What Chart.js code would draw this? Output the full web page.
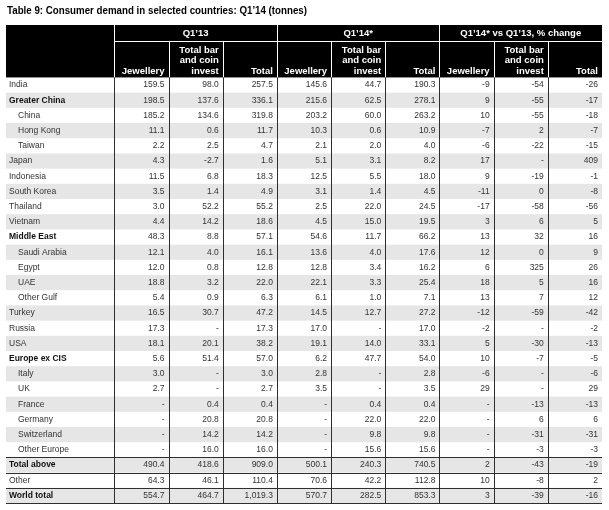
<!DOCTYPE html>
<html lang="en">
<head>
<meta charset="UTF-8">
<title>Table 9: Consumer demand in selected countries</title>
<script src="https://cdn.jsdelivr.net/npm/chart.js"></script>
<style>
  body { margin: 0; background: #fff; }
  .wrap { position: relative; width: 609px; height: 510px; }
</style>
</head>
<body>
<div class="wrap"><canvas id="tbl"></canvas></div>
<script>
const title = 'Table 9: Consumer demand in selected countries: Q1’14 (tonnes)';
const groups = ['Q1’13', 'Q1’14*', 'Q1’14* vs Q1’13, % change'];
const subHeads = [['Jewellery'], ['Total bar', 'and coin', 'invest'], ['Total']];

const countries = ['India', 'Greater China', 'China', 'Hong Kong', 'Taiwan', 'Japan', 'Indonesia',
  'South Korea', 'Thailand', 'Vietnam', 'Middle East', 'Saudi Arabia', 'Egypt', 'UAE', 'Other Gulf',
  'Turkey', 'Russia', 'USA', 'Europe ex CIS', 'Italy', 'UK', 'France', 'Germany', 'Switzerland',
  'Other Europe', 'Total above', 'Other', 'World total'];
const boldRows = ['Greater China', 'Middle East', 'Europe ex CIS', 'Total above', 'World total'];
const indented = ['China', 'Hong Kong', 'Taiwan', 'Saudi Arabia', 'Egypt', 'UAE', 'Other Gulf',
  'Italy', 'UK', 'France', 'Germany', 'Switzerland', 'Other Europe'];

// tonnes, Q1'13
const q13Jewellery = [159.5, 198.5, 185.2, 11.1, 2.2, 4.3, 11.5, 3.5, 3.0, 4.4, 48.3, 12.1, 12.0, 18.8, 5.4,
  16.5, 17.3, 18.1, 5.6, 3.0, 2.7, null, null, null, null, 490.4, 64.3, 554.7];
const q13BarCoin = [98.0, 137.6, 134.6, 0.6, 2.5, -2.7, 6.8, 1.4, 52.2, 14.2, 8.8, 4.0, 0.8, 3.2, 0.9,
  30.7, null, 20.1, 51.4, null, null, 0.4, 20.8, 14.2, 16.0, 418.6, 46.1, 464.7];
const q13Total = [257.5, 336.1, 319.8, 11.7, 4.7, 1.6, 18.3, 4.9, 55.2, 18.6, 57.1, 16.1, 12.8, 22.0, 6.3,
  47.2, 17.3, 38.2, 57.0, 3.0, 2.7, 0.4, 20.8, 14.2, 16.0, 909.0, 110.4, 1019.3];
// tonnes, Q1'14
const q14Jewellery = [145.6, 215.6, 203.2, 10.3, 2.1, 5.1, 12.5, 3.1, 2.5, 4.5, 54.6, 13.6, 12.8, 22.1, 6.1,
  14.5, 17.0, 19.1, 6.2, 2.8, 3.5, null, null, null, null, 500.1, 70.6, 570.7];
const q14BarCoin = [44.7, 62.5, 60.0, 0.6, 2.0, 3.1, 5.5, 1.4, 22.0, 15.0, 11.7, 4.0, 3.4, 3.3, 1.0,
  12.7, null, 14.0, 47.7, null, null, 0.4, 22.0, 9.8, 15.6, 240.3, 42.2, 282.5];
const q14Total = [190.3, 278.1, 263.2, 10.9, 4.0, 8.2, 18.0, 4.5, 24.5, 19.5, 66.2, 17.6, 16.2, 25.4, 7.1,
  27.2, 17.0, 33.1, 54.0, 2.8, 3.5, 0.4, 22.0, 9.8, 15.6, 740.5, 112.8, 853.3];
// % change
const chgJewellery = [-9, 9, 10, -7, -6, 17, 9, -11, -17, 3, 13, 12, 6, 18, 13, -12, -2, 5, 10, -6, 29,
  null, null, null, null, 2, 10, 3];
const chgBarCoin = [-54, -55, -55, 2, -22, null, -19, 0, -58, 6, 32, 0, 325, 5, 7, -59, null, -30, -7,
  null, null, -13, 6, -31, -3, -43, -8, -39];
const chgTotal = [-26, -17, -18, -7, -15, 409, -1, -8, -56, 5, 16, 9, 26, 16, 12, -42, -2, -13, -5, -6, 29,
  -13, 6, -31, -3, -19, 2, -16];

const columns = [q13Jewellery, q13BarCoin, q13Total, q14Jewellery, q14BarCoin, q14Total,
  chgJewellery, chgBarCoin, chgTotal];
const linesAbove = ['Total above', 'Other', 'World total'];

const HEAD = 3.45;   // header height in row units
const FONT = '"Liberation Sans", Arial, sans-serif';

function fmt(v, col) {
  if (v === null) return '-';
  const d = col < 6 ? 1 : 0;
  return v.toLocaleString('en-US', { minimumFractionDigits: d, maximumFractionDigits: d });
}

// one dataset per numeric column, each cell is a point at the column's right edge
const datasets = columns.map((vals, c) => ({
  label: 'col' + c,
  data: vals.map((v, r) => ({ x: c + 1, y: r + 0.5, v: v })),
  pointRadius: 0,
  showLine: false
}));

const tablePlugin = {
  id: 'tablePlugin',
  beforeDatasetsDraw(chart) {
    const { ctx, scales: { x, y } } = chart;
    const L = x.getPixelForValue(-2), R = x.getPixelForValue(9);
    const px = v => Math.round(x.getPixelForValue(v)) + 0.5;
    const py = v => Math.round(y.getPixelForValue(v)) + 0.5;
    ctx.save();

    // title (the original face is condensed, so squeeze it a little)
    ctx.save();
    ctx.fillStyle = '#000';
    ctx.font = 'bold 11.5px ' + FONT;
    ctx.textBaseline = 'middle';
    const tw = ctx.measureText(title).width;
    ctx.translate(L + 1, 11);
    ctx.scale(300 / tw, 1);
    ctx.fillText(title, 0, 0);
    ctx.restore();

    // zebra rows
    ctx.fillStyle = '#e6e6e7';
    countries.forEach((c, i) => {
      if (i % 2 === 1) {
        const t = y.getPixelForValue(i), b = y.getPixelForValue(i + 1);
        ctx.fillRect(L, t, R - L, b - t);
      }
    });

    // header block
    const hTop = y.getPixelForValue(-HEAD), hBot = y.getPixelForValue(0);
    const gBot = y.getPixelForValue(-2.4);
    ctx.fillStyle = '#000';
    ctx.fillRect(L, hTop, R - L, hBot - hTop);

    ctx.strokeStyle = '#fff';
    ctx.lineWidth = 1;
    ctx.beginPath();
    ctx.moveTo(x.getPixelForValue(0), Math.round(gBot) + 0.5);
    ctx.lineTo(R, Math.round(gBot) + 0.5);
    for (let b = 0; b <= 8; b++) {
      ctx.moveTo(px(b), b % 3 === 0 ? hTop : gBot);
      ctx.lineTo(px(b), hBot);
    }
    ctx.stroke();

    // body lines
    ctx.strokeStyle = '#2e2e2e';
    ctx.beginPath();
    for (let b = 0; b <= 8; b++) {
      ctx.moveTo(px(b), hBot);
      ctx.lineTo(px(b), y.getPixelForValue(countries.length));
    }
    linesAbove.forEach(name => {
      const r = countries.indexOf(name);
      ctx.moveTo(L, py(r));
      ctx.lineTo(R, py(r));
    });
    ctx.moveTo(L, py(countries.length));
    ctx.lineTo(R, py(countries.length));
    ctx.stroke();

    // header text
    ctx.fillStyle = '#fff';
    ctx.font = 'bold 9.5px ' + FONT;
    ctx.textAlign = 'center';
    ctx.textBaseline = 'middle';
    groups.forEach((g, i) => {
      ctx.fillText(g, x.getPixelForValue(i * 3 + 1.5), (hTop + gBot) / 2);
    });
    ctx.textAlign = 'right';
    ctx.textBaseline = 'alphabetic';
    for (let c = 0; c < 9; c++) {
      const lines = subHeads[c % 3];
      lines.forEach((t, k) => {
        const yy = hBot - 3.5 - (lines.length - 1 - k) * 10.5;
        ctx.fillText(t, x.getPixelForValue(c + 1) - 4, yy);
      });
    }

    // row labels
    ctx.textAlign = 'left';
    ctx.textBaseline = 'middle';
    countries.forEach((name, i) => {
      const bold = boldRows.includes(name);
      ctx.font = (bold ? 'bold ' : '') + '8.5px ' + FONT;
      ctx.fillStyle = bold ? '#111' : '#333';
      const indent = indented.includes(name) ? 12 : 3;
      ctx.fillText(name, L + indent, y.getPixelForValue(i + 0.5));
    });
    ctx.restore();
  },
  afterDatasetsDraw(chart) {
    const { ctx } = chart;
    ctx.save();
    ctx.font = '8.5px ' + FONT;
    ctx.fillStyle = '#333';
    ctx.textAlign = 'right';
    ctx.textBaseline = 'middle';
    chart.data.datasets.forEach((ds, c) => {
      chart.getDatasetMeta(c).data.forEach((pt, r) => {
        ctx.fillText(fmt(ds.data[r].v, c), pt.x - 4, pt.y);
      });
    });
    ctx.restore();
  }
};

new Chart(document.getElementById('tbl'), {
  type: 'scatter',
  data: { datasets: datasets },
  options: {
    responsive: true,
    maintainAspectRatio: false,
    animation: false,
    events: [],
    layout: { padding: { left: 6, right: 7, top: 25, bottom: 7 } },
    scales: {
      x: { type: 'linear', min: -2, max: 9, display: false },
      y: { type: 'linear', min: -HEAD, max: countries.length, reverse: true, display: false }
    },
    plugins: { legend: { display: false }, tooltip: { enabled: false } }
  },
  plugins: [tablePlugin]
});
</script>
</body>
</html>
